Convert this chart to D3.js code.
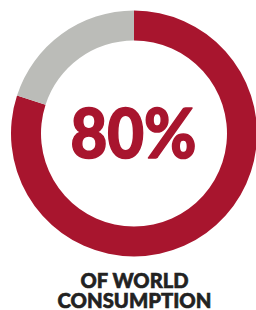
<html>
<head>
  <script src='https://d3js.org/d3.v7.min.js'></script>
  <style>body{margin:0;background:#fff;}</style>
</head>
<body>
<script>
var labels = ['World', 'Rest'];
var shares = [80, 20];
var colors = ['#a8152e', '#bbbcb8'];
var bigText = '80%';
var caption = ['OF WORLD', 'CONSUMPTION'];

var width = 256, height = 310;
var cx = 134, cy = 133.5;

var svg = d3.select('body').append('svg')
  .attr('width', width)
  .attr('height', height);

var pie = d3.pie().sort(null).value(function(d){ return d; });
var arc = d3.arc().innerRadius(93).outerRadius(123);

var g = svg.append('g').attr('transform', 'translate(' + cx + ',' + cy + ')');

g.selectAll('path')
  .data(pie(shares))
  .enter()
  .append('path')
  .attr('fill', function(d, i){ return colors[i]; })
  .attr('d', arc);

// heavier weight than the installed Lato gives, so add a thin stroke
svg.append('text')
  .attr('x', 133.5).attr('y', 157.5)
  .attr('text-anchor', 'middle')
  .attr('font-family', 'Lato')
  .attr('font-weight', 900)
  .attr('font-size', 69)
  .attr('textLength', 126)
  .attr('lengthAdjust', 'spacingAndGlyphs')
  .attr('fill', colors[0])
  .attr('stroke', colors[0])
  .attr('stroke-width', 1.6)
  .attr('stroke-linejoin', 'round')
  .text(bigText);

var capW = [108, 154];
var capY = [287.5, 307.5];
svg.selectAll('.cap')
  .data(caption)
  .enter()
  .append('text')
  .attr('class', 'cap')
  .attr('x', 134.5)
  .attr('y', function(d, i){ return capY[i]; })
  .attr('text-anchor', 'middle')
  .attr('font-family', 'Lato')
  .attr('font-weight', 900)
  .attr('font-size', 20.5)
  .attr('textLength', function(d, i){ return capW[i]; })
  .attr('lengthAdjust', 'spacingAndGlyphs')
  .attr('fill', '#222')
  .attr('stroke', '#222')
  .attr('stroke-width', 0.6)
  .text(function(d){ return d; });
</script>
</body>
</html>
